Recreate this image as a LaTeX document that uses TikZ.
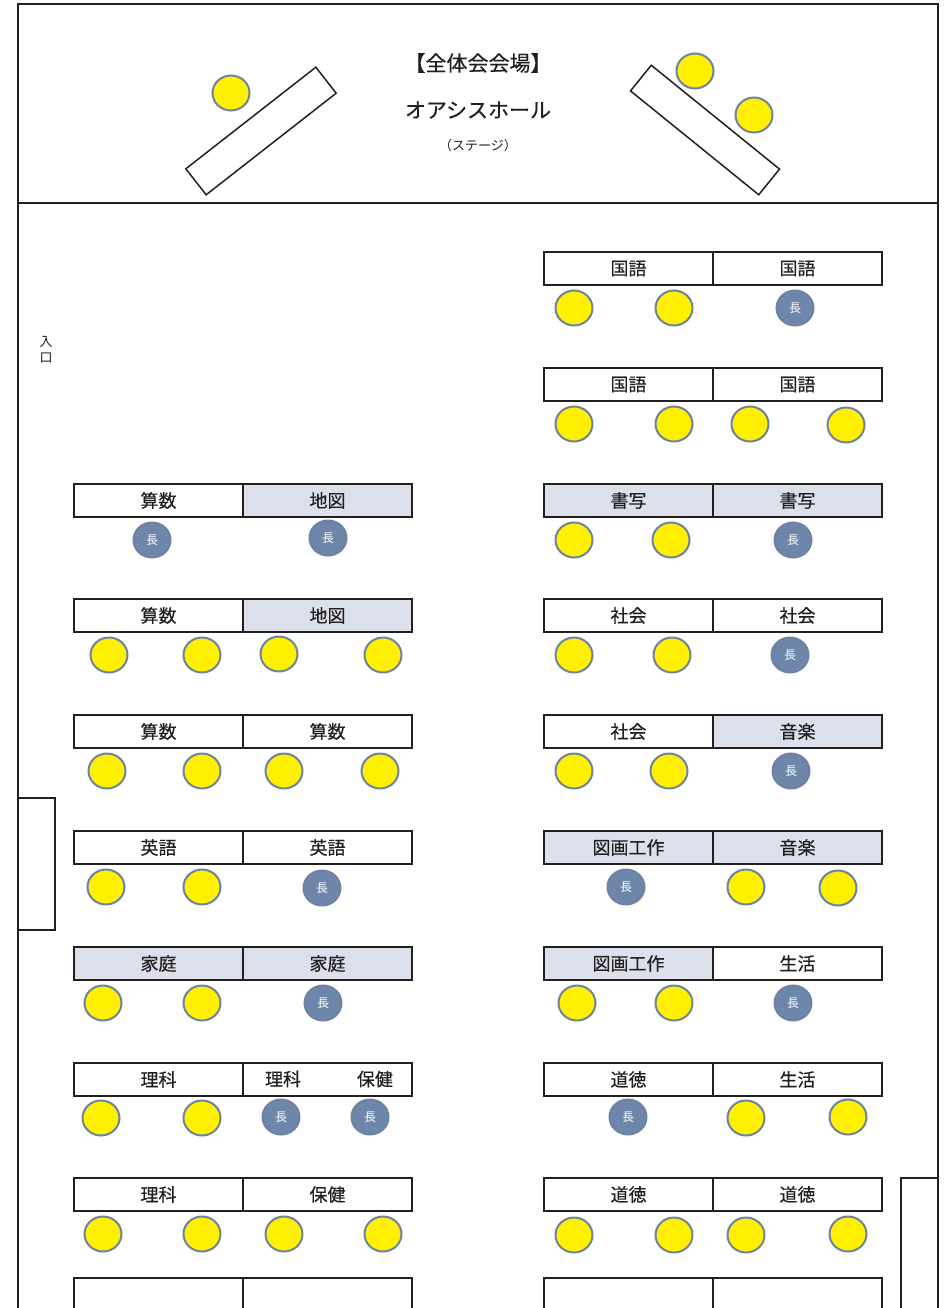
\documentclass[tikz,border=0pt]{standalone}
\usepackage{fontspec}
\newfontfamily\jp{Noto Sans CJK JP}
\newfontfamily\jpb[FakeBold=0.4]{Noto Sans CJK JP}
\usetikzlibrary{shapes.geometric}
\definecolor{seatfill}{HTML}{FFF000}
\definecolor{seatline}{HTML}{6E82A3}
\definecolor{chieffill}{HTML}{6D86AA}
\definecolor{shade}{HTML}{DCE0EB}
\definecolor{ink}{HTML}{231F20}
\tikzset{
  frameline/.style={draw=ink, line width=2pt},
  cell/.style={draw=ink, line width=2.2pt, minimum width=169pt, minimum height=33pt,
    inner sep=0pt, outer sep=0pt, anchor=north west, text=ink, font=\jpb\fontsize{18}{18}\selectfont},
  shadedcell/.style={cell, fill=shade},
  celllabel/.style={inner sep=0pt, text=ink, font=\jpb\fontsize{18}{18}\selectfont},
  seat/.style={ellipse, draw=seatline, line width=2pt, fill=seatfill,
    minimum width=37pt, minimum height=35pt, inner sep=0pt},
  chiefseat/.style={seat, fill=chieffill, text=white, font=\jp\fontsize{12}{12}\selectfont},
  stagetable/.style={draw=ink, line width=1.5pt, minimum width=165pt, minimum height=33pt, inner sep=0pt},
  titletext/.style={inner sep=0pt, text=ink},
}
\newcommand\tbl[7]{%
  \node[#4] (#1a) at (#2,#3) {#5};
  \node[#6] (#1b) at (#1a.north east) {#7};}
\begin{document}
\begin{tikzpicture}[x=1pt,y=-1pt]
\clip (0,0) rectangle (951,1308);
\fill[white] (0,0) rectangle (951,1308);
% frame
\draw[frameline] (18,1310) -- (18,4) -- (938,4) -- (938,1310);
\draw[frameline] (18,203) -- (938,203);
\draw[frameline] (18,798) -- (55,798) -- (55,930) -- (18,930);
\draw[frameline] (938,1178) -- (901,1178) -- (901,1312);
% stage
\node[stagetable, rotate=38] (stageL) at (261,131) {};
\node[stagetable, rotate=-39] (stageR) at (705,130) {};
\node[seat] (stS1) at (231,93) {};
\node[seat] (stS2) at (695,71) {};
\node[seat] (stS3) at (754,115) {};
\node[titletext, font=\jpb\fontsize{21}{21}\selectfont] (title) at (478,63) {【全体会会場】};
\node[titletext, font=\jpb\fontsize{21}{21}\selectfont] (hall) at (478,110) {オアシスホール};
\node[titletext, font=\jp\fontsize{13}{13}\selectfont] (stage) at (478,146) {（ステージ）};
% entrance
\node[titletext, align=center, font=\jp\fontsize{13}{16}\selectfont] (entry) at (46,350) {入\\口};
% right column
\tbl{r1}{544}{252}{cell}{国語}{cell}{国語}
\node[seat] (r1s1) at (574,308) {};
\node[seat] (r1s2) at (674,308) {};
\node[chiefseat] (r1s3) at (795,308) {長};
\tbl{r2}{544}{368}{cell}{国語}{cell}{国語}
\node[seat] (r2s1) at (574,424) {};
\node[seat] (r2s2) at (674,424) {};
\node[seat] (r2s3) at (750,424) {};
\node[seat] (r2s4) at (846,425) {};
\tbl{r3}{544}{484}{shadedcell}{書写}{shadedcell}{書写}
\node[seat] (r3s1) at (574,540) {};
\node[seat] (r3s2) at (671,540) {};
\node[chiefseat] (r3s3) at (793,540) {長};
\tbl{r4}{544}{599}{cell}{社会}{cell}{社会}
\node[seat] (r4s1) at (574,655) {};
\node[seat] (r4s2) at (672,655) {};
\node[chiefseat] (r4s3) at (790,655) {長};
\tbl{r5}{544}{715}{cell}{社会}{shadedcell}{音楽}
\node[seat] (r5s1) at (574,771) {};
\node[seat] (r5s2) at (669,771) {};
\node[chiefseat] (r5s3) at (791,771) {長};
\tbl{r6}{544}{831}{shadedcell}{図画工作}{shadedcell}{音楽}
\node[chiefseat] (r6s1) at (626,887) {長};
\node[seat] (r6s2) at (746,887) {};
\node[seat] (r6s3) at (838,888) {};
\tbl{r7}{544}{947}{shadedcell}{図画工作}{cell}{生活}
\node[seat] (r7s1) at (577,1003) {};
\node[seat] (r7s2) at (674,1003) {};
\node[chiefseat] (r7s3) at (793,1003) {長};
\tbl{r8}{544}{1063}{cell}{道徳}{cell}{生活}
\node[chiefseat] (r8s1) at (628,1117) {長};
\node[seat] (r8s2) at (746,1118) {};
\node[seat] (r8s3) at (848,1117) {};
\tbl{r9}{544}{1178}{cell}{道徳}{cell}{道徳}
\node[seat] (r9s1) at (574,1235) {};
\node[seat] (r9s2) at (674,1235) {};
\node[seat] (r9s3) at (746,1235) {};
\node[seat] (r9s4) at (848,1234) {};
\tbl{r10}{544}{1278}{cell}{}{cell}{}
% left column
\tbl{l3}{74}{484}{cell}{算数}{shadedcell}{地図}
\node[chiefseat] (l3s1) at (152,540) {長};
\node[chiefseat] (l3s2) at (328,538) {長};
\tbl{l4}{74}{599}{cell}{算数}{shadedcell}{地図}
\node[seat] (l4s1) at (109,655) {};
\node[seat] (l4s2) at (202,655) {};
\node[seat] (l4s3) at (279,654) {};
\node[seat] (l4s4) at (383,655) {};
\tbl{l5}{74}{715}{cell}{算数}{cell}{算数}
\node[seat] (l5s1) at (107,771) {};
\node[seat] (l5s2) at (202,771) {};
\node[seat] (l5s3) at (284,771) {};
\node[seat] (l5s4) at (380,771) {};
\tbl{l6}{74}{831}{cell}{英語}{cell}{英語}
\node[seat] (l6s1) at (106,887) {};
\node[seat] (l6s2) at (202,887) {};
\node[chiefseat] (l6s3) at (322,888) {長};
\tbl{l7}{74}{947}{shadedcell}{家庭}{shadedcell}{家庭}
\node[seat] (l7s1) at (103,1003) {};
\node[seat] (l7s2) at (202,1003) {};
\node[chiefseat] (l7s3) at (323,1003) {長};
\tbl{l8}{74}{1063}{cell}{理科}{cell}{}
\node[celllabel] (l8t1) at (283,1079) {理科};
\node[celllabel] (l8t2) at (375,1079) {保健};
\node[seat] (l8s1) at (101,1118) {};
\node[seat] (l8s2) at (202,1118) {};
\node[chiefseat] (l8s3) at (281,1117) {長};
\node[chiefseat] (l8s4) at (370,1117) {長};
\tbl{l9}{74}{1178}{cell}{理科}{cell}{保健}
\node[seat] (l9s1) at (103,1234) {};
\node[seat] (l9s2) at (202,1234) {};
\node[seat] (l9s3) at (284,1234) {};
\node[seat] (l9s4) at (383,1234) {};
\tbl{l10}{74}{1278}{cell}{}{cell}{}
\end{tikzpicture}
\end{document}
